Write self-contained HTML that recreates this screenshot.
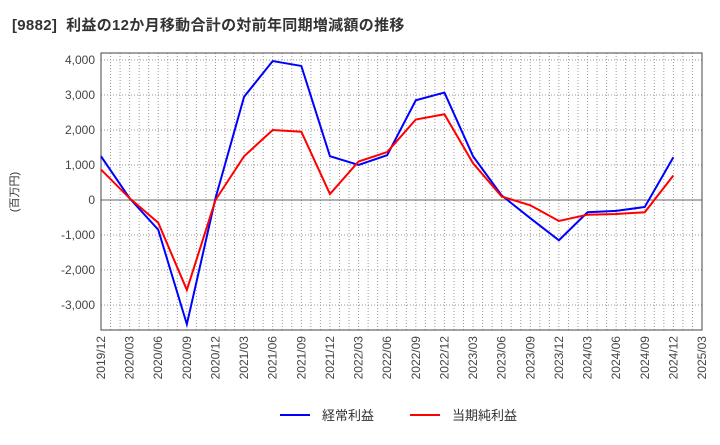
<!DOCTYPE html>
<html><head><meta charset="utf-8"><style>
body{margin:0;background:#fff;font-family:"Liberation Sans","Noto Sans CJK JP",sans-serif}
</style></head><body>
<svg id="c" width="720" height="440" xmlns="http://www.w3.org/2000/svg">
<text x="12" y="30" font-size="15" font-weight="bold" fill="#333" letter-spacing="0.3" xml:space="preserve">[9882]  利益の12か月移動合計の対前年同期増減額の推移</text>
<text transform="translate(18,192) rotate(-90)" font-size="11" fill="#333" text-anchor="middle">(百万円)</text>
<g id="grid"></g><g id="axes"></g><g id="series"></g>
<g>
<line x1="280" y1="415" x2="310" y2="415" stroke="#00f" stroke-width="2"/>
<text x="322" y="420" font-size="13" fill="#333">経常利益</text>
<line x1="410" y1="415" x2="440" y2="415" stroke="#f00" stroke-width="2"/>
<text x="452" y="420" font-size="13" fill="#333">当期純利益</text>
</g>
</svg>
<script>
const categories=["2019/12","2020/03","2020/06","2020/09","2020/12","2021/03","2021/06","2021/09","2021/12","2022/03","2022/06","2022/09","2022/12","2023/03","2023/06","2023/09","2023/12","2024/03","2024/06","2024/09","2024/12","2025/03"];
const ordinaryProfit=[1250,50,-850,-3550,50,2950,3970,3830,1250,1000,1280,2850,3070,1250,130,-520,-1150,-350,-310,-200,1220];
const netProfit=[870,50,-650,-2570,0,1250,2000,1950,170,1100,1370,2300,2450,1050,100,-150,-600,-420,-400,-350,700];
const yTicks=[-3000,-2000,-1000,0,1000,2000,3000,4000];
const NS="http://www.w3.org/2000/svg";
const L=101,R=702,T=53,B=330;
const x=i=>L+(R-L)*i/(categories.length-1);
const y=v=>200-v*0.035;
function mk(tag,attrs,parent){const e=document.createElementNS(NS,tag);for(const k in attrs)e.setAttribute(k,attrs[k]);parent.appendChild(e);return e;}
const grid=document.getElementById('grid'),axes=document.getElementById('axes'),ser=document.getElementById('series');
mk('rect',{x:L,y:T,width:R-L,height:B-T,fill:'#fff'},grid);
for(let m=0;m<=(categories.length-1)*3;m++){const xx=L+(R-L)*m/((categories.length-1)*3);
 const ln=mk('line',{x1:xx,x2:xx,y1:T,y2:B,stroke:'#999','stroke-dasharray':'1,2','stroke-width':1},grid);
 }
yTicks.forEach(v=>{const ln=mk('line',{x1:L,x2:R,y1:y(v),y2:y(v),stroke:v===0?'#666':'#999','stroke-dasharray':v===0?'none':'1,2'},grid);
 
 const t=mk('text',{x:L-6,y:y(v)+4,'text-anchor':'end','font-size':12,fill:'#444'},axes);t.textContent=v.toLocaleString('en-US');
 });
mk('rect',{x:L,y:T,width:R-L,height:B-T,fill:'none',stroke:'#444'},axes);
categories.forEach((c,i)=>{const t=mk('text',{transform:`translate(${x(i)+4},${B+6}) rotate(-90)`,'text-anchor':'end','font-size':12,fill:'#444'},axes);t.textContent=c;
 });
function line(d,col,name){const p=mk('polyline',{points:d.map((v,i)=>x(i)+','+y(v)).join(' '),fill:'none',stroke:col,'stroke-width':2},ser);
 }
line(ordinaryProfit,'#00f','ordinary-profit-line');
line(netProfit,'#f00','net-profit-line');
</script>
</body></html>
